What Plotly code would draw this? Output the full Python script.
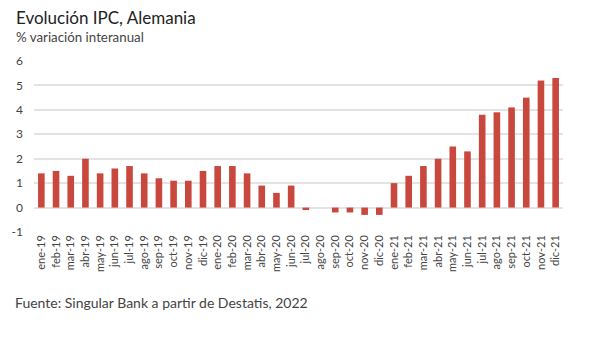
import plotly.graph_objects as go

months = ["ene", "feb", "mar", "abr", "may", "jun", "jul", "ago", "sep", "oct", "nov", "dic"]
years = ["19", "20", "21"]
categories = [f"{m}-{y}" for y in years for m in months]

ipc_2019 = [1.4, 1.5, 1.3, 2.0, 1.4, 1.6, 1.7, 1.4, 1.2, 1.1, 1.1, 1.5]
ipc_2020 = [1.7, 1.7, 1.4, 0.9, 0.6, 0.9, -0.1, 0.0, -0.2, -0.2, -0.3, -0.3]
ipc_2021 = [1.0, 1.3, 1.7, 2.0, 2.5, 2.3, 3.8, 3.9, 4.1, 4.5, 5.2, 5.3]
values = ipc_2019 + ipc_2020 + ipc_2021

y_ticks = [-1, 0, 1, 2, 3, 4, 5, 6]

FONT = "Lato"
W, H = 600, 338
M_L, M_R, M_T, M_B = 25, 37, 61, 106

fig = go.Figure(
    go.Bar(
        x=categories,
        y=values,
        marker=dict(color="#C9483E", line=dict(width=0)),
    )
)

fig.update_layout(
    width=W,
    height=H,
    margin=dict(l=M_L, r=M_R, t=M_T, b=M_B),
    paper_bgcolor="white",
    plot_bgcolor="white",
    bargap=0.55,
    showlegend=False,
    font=dict(family=FONT, color="#333333"),
    xaxis=dict(
        type="category",
        tickangle=-90,
        tickfont=dict(size=11, color="#444444"),
        showgrid=False,
        showline=False,
        ticks="",
        range=[-0.5, 35.5],
    ),
    yaxis=dict(
        range=[-1, 6],
        tickvals=y_ticks,
        ticktext=[str(v) for v in y_ticks],
        tickfont=dict(size=12, color="#444444"),
        showgrid=True,
        gridcolor="#E3E3E3",
        gridwidth=1.5,
        zeroline=True,
        zerolinecolor="#E3E3E3",
        zerolinewidth=1.5,
        showline=False,
        ticks="",
        ticklabelstandoff=10,
    ),
)

plot_h = H - M_T - M_B
plot_w = W - M_L - M_R


def px_to_paper_y(py):
    return (H - M_B - py) / plot_h


def px_to_paper_x(px):
    return (px - M_L) / plot_w


# header and source lines
fig.add_annotation(text="Evolución IPC, Alemania", x=px_to_paper_x(5), y=px_to_paper_y(18),
                   xref="paper", yref="paper", xanchor="left", yanchor="middle",
                   showarrow=False, font=dict(size=17, color="#222222", family=FONT))
fig.add_annotation(text="% variación interanual", x=px_to_paper_x(5), y=px_to_paper_y(37),
                   xref="paper", yref="paper", xanchor="left", yanchor="middle",
                   showarrow=False, font=dict(size=13.3, color="#444444", family=FONT))
fig.add_annotation(text="Fuente: Singular Bank a partir de Destatis, 2022", x=px_to_paper_x(4),
                   y=px_to_paper_y(302), xref="paper", yref="paper", xanchor="left",
                   yanchor="middle", showarrow=False,
                   font=dict(size=14, color="#444444", family=FONT))

fig.write_html("out.html")
